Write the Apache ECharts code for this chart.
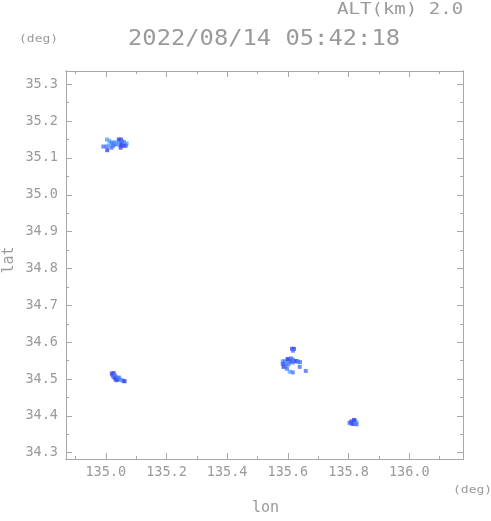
<!DOCTYPE html>
<html><head><meta charset="utf-8">
<script src="https://cdn.jsdelivr.net/npm/echarts@6/dist/echarts.min.js"></script>
<style>html,body{margin:0;padding:0;background:#fff}#c{width:491px;height:521px}</style>
</head><body><div id="c"></div>
<script>
// Axis ranges and ticks
const lonRange = [134.869, 136.177];
const latRange = [34.283, 35.336];
const lonMajor = [135.0, 135.2, 135.4, 135.6, 135.8, 136.0];
const lonMinor = [134.9, 135.1, 135.3, 135.5, 135.7, 135.9, 136.1];
const latMajor = [34.3, 34.4, 34.5, 34.6, 34.7, 34.8, 34.9, 35.0, 35.1, 35.2, 35.3];
const latMinor = [34.35, 34.45, 34.55, 34.65, 34.75, 34.85, 34.95, 35.05, 35.15, 35.25];
const titleText = "2022/08/14 05:42:18";
const altText = "ALT(km) 2.0";
const xName = "lon", yName = "lat", unitText = "(deg)";

// Echo points: [lon, lat, level]
const cluster1 = [
  [135.043,35.150,2],[135.050,35.150,2],[135.046,35.145,2],[135.053,35.145,1],[135.060,35.143,1],
  [135.056,35.138,1],[135.063,35.138,0],[135.069,35.139,0],[135.066,35.133,1],[135.059,35.133,2],
  [135.052,35.138,1],[135.049,35.135,2],[135.026,35.142,0],[135.032,35.142,0],[135.029,35.137,0],
  [135.035,35.137,1],[135.039,35.141,0],[135.004,35.150,0],[135.012,35.146,0],[135.019,35.141,1],
  [134.992,35.131,1],[135.003,35.131,1],[135.010,35.134,0],[135.019,35.128,1],[135.005,35.121,2],
  [135.049,35.128,2],[135.024,35.133,1]
];
const cluster2 = [
  [135.020,34.515,2],[135.026,34.516,2],[135.023,34.510,2],[135.029,34.511,1],[135.026,34.505,1],
  [135.033,34.506,1],[135.031,34.501,2],[135.037,34.502,1],[135.040,34.499,1],[135.046,34.499,1],
  [135.052,34.497,0],[135.058,34.495,1],[135.062,34.494,2],[135.035,34.497,2],[135.043,34.504,1]
];
const cluster3 = [
  [135.614,34.582,2],[135.620,34.582,2],[135.617,34.577,1],[135.583,34.548,0],[135.583,34.541,1],
  [135.589,34.548,1],[135.589,34.540,2],[135.586,34.533,2],[135.592,34.534,1],[135.595,34.545,0],
  [135.601,34.553,1],[135.605,34.546,0],[135.602,34.540,1],[135.610,34.556,1],[135.611,34.549,2],
  [135.616,34.553,1],[135.616,34.545,1],[135.622,34.548,1],[135.628,34.549,2],[135.634,34.547,1],
  [135.640,34.546,1],[135.597,34.528,1],[135.639,34.533,1],[135.606,34.520,0],[135.616,34.518,1],
  [135.659,34.522,1],[135.599,34.554,2]
];
const cluster4 = [
  [135.803,34.381,1],[135.809,34.379,1],[135.809,34.385,2],[135.815,34.383,1],[135.815,34.378,2],
  [135.821,34.381,1],[135.821,34.387,1],[135.826,34.382,0],[135.826,34.377,1],[135.818,34.389,2]
];
const levelColors = ['#55a6ff', '#4a74ff', '#3d45ee'];

const axisGray = '#a8a8a8';
const textGray = '#9a9a9a';
const MONO = 'DejaVu Sans Mono';

function xAx(pos, ticks, len, showLabel) {
  return {
    type: 'value', position: pos, min: lonRange[0], max: lonRange[1], gridIndex: 0,
    axisLine: { show: true, lineStyle: { color: axisGray, width: 1 } },
    axisTick: { show: true, inside: true, length: len, customValues: ticks, lineStyle: { color: axisGray } },
    axisLabel: showLabel ? { show: true, customValues: lonMajor, formatter: v => v.toFixed(1),
      color: textGray, fontFamily: MONO, fontSize: 13.5, margin: 6 } : { show: false },
    splitLine: { show: false }
  };
}
function yAx(pos, ticks, len, showLabel) {
  return {
    type: 'value', position: pos, min: latRange[0], max: latRange[1], gridIndex: 0,
    axisLine: { show: true, lineStyle: { color: axisGray, width: 1 } },
    axisTick: { show: true, inside: true, length: len, customValues: ticks, lineStyle: { color: axisGray } },
    axisLabel: showLabel ? { show: true, customValues: latMajor, formatter: v => v.toFixed(1),
      color: textGray, fontFamily: MONO, fontSize: 13.5, margin: 8 } : { show: false },
    splitLine: { show: false }
  };
}

const allPoints = cluster1.concat(cluster2, cluster3, cluster4);

function label(text, x, y, size, sx, extra) {
  return Object.assign({ type: 'text', x: x, y: y, scaleX: sx, originX: 0, originY: 0,
    style: { text: text, fill: textGray, font: size + 'px ' + MONO, align: 'left', verticalAlign: 'middle' } }, extra || {});
}

const chart = echarts.init(document.getElementById('c'), null, { renderer: 'canvas' });
chart.setOption({
  animation: false,
  backgroundColor: '#fff',
  grid: { left: 66, right: 28, top: 71, bottom: 62 },
  xAxis: [
    xAx('bottom', lonMajor, 6, true),
    xAx('bottom', lonMinor, 3, false),
    xAx('top', lonMajor, 6, false),
    xAx('top', lonMinor, 3, false)
  ],
  yAxis: [
    yAx('left', latMajor, 6, true),
    yAx('left', latMinor, 3, false),
    yAx('right', latMajor, 6, false),
    yAx('right', latMinor, 3, false)
  ],
  series: [{
    type: 'scatter', xAxisIndex: 0, yAxisIndex: 0,
    symbol: 'rect', symbolSize: 4,
    data: allPoints.map(p => ({ value: [p[0], p[1]], itemStyle: { color: levelColors[p[2]] } })),
    silent: true
  }],
  graphic: [
    label(altText, 337, 9.5, 16.5, 1.155),
    label(titleText, 128, 39.5, 20.5, 1.16),
    label(unitText, 19, 39, 11, 1.18),
    label(unitText, 453, 490, 11, 1.18),
    label(xName, 252, 508, 15, 1.0),
    { type: 'text', x: 9, y: 260, rotation: Math.PI / 2,
      style: { text: yName, fill: textGray, font: '15px ' + MONO, align: 'center', verticalAlign: 'middle' } }
  ]
});
</script></body></html>
